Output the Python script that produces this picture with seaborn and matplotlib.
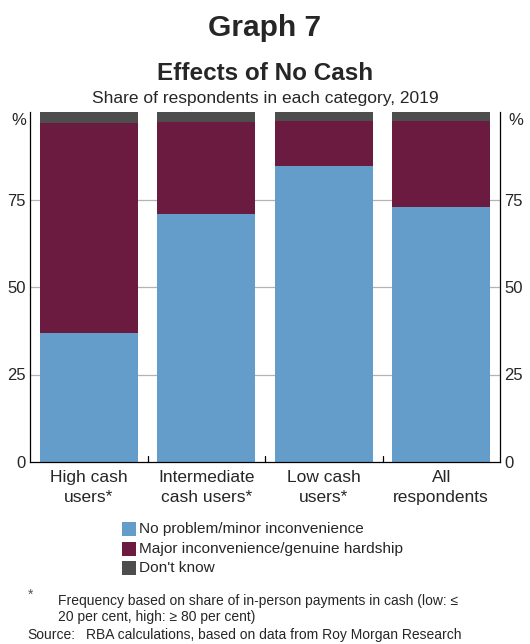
import matplotlib
matplotlib.use("Agg")
import matplotlib.pyplot as plt
import seaborn as sns
import pandas as pd
import numpy as np
from matplotlib.patches import Rectangle

sns.set_theme(style="white")
plt.rcParams["font.family"] = ["Liberation Sans", "DejaVu Sans"]

categories = ["High cash\nusers*", "Intermediate\ncash users*", "Low cash\nusers*", "All\nrespondents"]
no_problem = [37.0, 71.0, 84.6, 72.9]
major = [59.9, 26.2, 12.9, 24.4]
dont_know = [3.1, 2.8, 2.5, 2.7]
series_names = ["No problem/minor inconvenience", "Major inconvenience/genuine hardship", "Don't know"]
colors = ["#659dca", "#6b1b40", "#4d4d4d"]
yticks = [0, 25, 50, 75]

df = pd.DataFrame({"category": categories, "a": no_problem, "b": major, "c": dont_know})
df["cum1"] = df["a"]
df["cum2"] = df["a"] + df["b"]
df["cum3"] = df["cum2"] + df["c"]

fig = plt.figure(figsize=(5.30, 6.44), dpi=100)
ax = fig.add_axes([30 / 530, 1 - 462 / 644, 470 / 530, 350 / 644])

for col, color in zip(["cum3", "cum2", "cum1"], colors[::-1]):
    sns.barplot(data=df, x="category", y=col, color=color, width=0.835,
                saturation=1, ax=ax, zorder=3, linewidth=0)

ax.set_xlim(-0.5, 3.5)
ax.set_ylim(0, 100)
ax.set_xlabel("")
ax.set_ylabel("")

# horizontal grid
for v in yticks[1:]:
    ax.axhline(v, color="#b3b3b3", lw=0.9, zorder=1)

ax.spines["top"].set_visible(False)
for s in ["left", "right", "bottom"]:
    ax.spines[s].set_color("black")
    ax.spines[s].set_linewidth(0.9)
    ax.spines[s].set_zorder(5)

ax.set_yticks(yticks)
ax.set_yticklabels([str(t) for t in yticks], fontsize=12)
ax.tick_params(axis="y", length=0, pad=3, labelleft=True, labelright=True)
ax.set_xticks(range(len(categories)))
ax.set_xticklabels(categories, fontsize=12.5, linespacing=1.4)
ax.tick_params(axis="x", length=0, pad=6)
# small ticks between categories
for xb in [0.5, 1.5, 2.5]:
    ax.plot([xb, xb], [0, 1.6], color="black", lw=0.9, zorder=6, clip_on=False)

ax.annotate("%", xy=(0, 1.0), xycoords="axes fraction", xytext=(-3, -1),
            textcoords="offset points", ha="right", va="top", fontsize=12)
ax.annotate("%", xy=(1, 1.0), xycoords="axes fraction", xytext=(6, -1),
            textcoords="offset points", ha="left", va="top", fontsize=12)

fig.text(0.5, 1 - 28 / 644, "Graph 7", ha="center", va="center", fontsize=21.5, fontweight="bold")
fig.text(0.5, 1 - 73 / 644, "Effects of No Cash", ha="center", va="center", fontsize=17.5, fontweight="bold")
fig.text(0.5, 1 - 98.5 / 644, "Share of respondents in each category, 2019", ha="center", va="center", fontsize=12.5)

# legend
for i, (name, color) in enumerate(zip(series_names, colors)):
    yc = 529 + i * 19.5
    fig.patches.append(Rectangle((122 / 530, 1 - (yc + 7) / 644), 14 / 530, 14 / 644,
                                 transform=fig.transFigure, facecolor=color, edgecolor="none"))
    fig.text(139 / 530, 1 - yc / 644, name, ha="left", va="center", fontsize=11.1)

# notes
fig.text(28 / 530, 1 - 595 / 644, "*", ha="left", va="center", fontsize=10, color="#555555")
fig.text(58 / 530, 1 - 601 / 644, "Frequency based on share of in-person payments in cash (low: \u2264",
         ha="left", va="center", fontsize=10, family=["Liberation Sans", "DejaVu Sans"])
fig.text(58 / 530, 1 - 617 / 644, "20 per cent, high: \u2265 80 per cent)",
         ha="left", va="center", fontsize=10, family=["Liberation Sans", "DejaVu Sans"])
fig.text(27 / 530, 1 - 635 / 644, "Source:", ha="left", va="center", fontsize=10)
fig.text(86 / 530, 1 - 635 / 644, "RBA calculations, based on data from Roy Morgan Research",
         ha="left", va="center", fontsize=10)

fig.savefig("out.png", dpi=100)
